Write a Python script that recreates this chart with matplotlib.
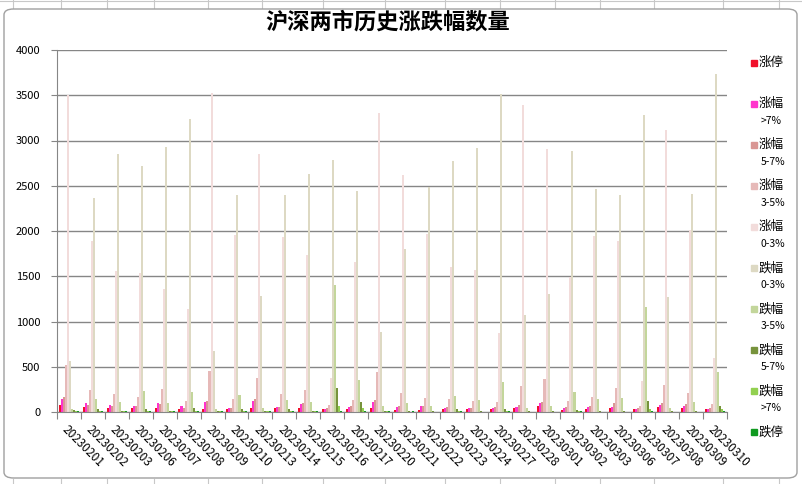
import numpy as np
import matplotlib
matplotlib.use('Agg')
from matplotlib import pyplot as plt
from matplotlib.patches import FancyBboxPatch, Rectangle
from matplotlib.lines import Line2D

plt.rcParams['font.family'] = ['Noto Sans CJK SC', 'DejaVu Sans']

dates = ['20230201', '20230202', '20230203', '20230206', '20230207', '20230208',
         '20230209', '20230210', '20230213', '20230214', '20230215', '20230216',
         '20230217', '20230220', '20230221', '20230222', '20230223', '20230224',
         '20230227', '20230228', '20230301', '20230302', '20230303', '20230306',
         '20230307', '20230308', '20230309', '20230310']

series_names = ['涨停', '涨幅\n>7%', '涨幅\n5-7%', '涨幅\n3-5%', '涨幅\n0-3%',
                '跌幅\n0-3%', '跌幅\n3-5%', '跌幅\n5-7%', '跌幅\n>7%', '跌停']

up_limit = [78, 55, 44, 44, 44, 37, 37, 30, 44, 44, 44, 30, 37, 44, 22, 22, 33, 30,
            30, 41, 67, 22, 30, 44, 33, 52, 41, 30]
up_7 = [140, 100, 78, 67, 104, 67, 111, 41, 122, 55, 85, 37, 59, 111, 59, 67, 41, 41,
        41, 59, 96, 41, 59, 59, 37, 78, 67, 37]
up_5_7 = [163, 74, 63, 67, 85, 48, 118, 44, 140, 60, 104, 48, 65, 133, 67, 65, 59, 41,
          59, 78, 115, 59, 67, 96, 44, 104, 85, 48]
up_3_5 = [522, 244, 200, 163, 255, 122, 448, 144, 377, 200, 244, 74, 133, 437, 215, 155,
          144, 122, 111, 292, 363, 126, 170, 263, 67, 296, 215, 85]
up_0_3 = [3503, 1890, 1558, 1540, 1359, 1138, 3521, 1956, 2855, 1930, 1731, 381, 1654,
          3308, 2619, 1967, 1602, 1569, 877, 3392, 2906, 1490, 1945, 1893, 348, 3116,
          2007, 596]
down_0_3 = [560, 2368, 2851, 2718, 2932, 3241, 670, 2398, 1285, 2401, 2626, 2785, 2442,
            880, 1797, 2483, 2777, 2917, 3510, 1075, 1304, 2884, 2464, 2398, 3282, 1274,
            2409, 3735]
down_3_5 = [37, 140, 115, 237, 100, 222, 33, 189, 44, 133, 111, 1403, 355, 67, 96, 67,
            178, 133, 326, 41, 67, 226, 144, 152, 1164, 41, 111, 437]
down_5_7 = [22, 33, 15, 33, 15, 41, 15, 30, 15, 37, 15, 263, 111, 15, 10, 8, 33, 10, 37,
            15, 15, 22, 10, 10, 122, 10, 10, 67]
down_7 = [15, 10, 8, 8, 8, 10, 8, 8, 8, 10, 8, 67, 41, 8, 5, 5, 8, 5, 10, 5, 5, 8, 5, 5,
          30, 5, 5, 30]
down_limit = [15, 12, 10, 12, 10, 15, 10, 12, 10, 15, 10, 15, 15, 8, 8, 5, 8, 5, 8, 5, 5,
              8, 5, 5, 10, 5, 5, 8]

series = [up_limit, up_7, up_5_7, up_3_5, up_0_3,
          down_0_3, down_3_5, down_5_7, down_7, down_limit]
colors = ['#F0102A', '#FF33CC', '#D99694', '#E6B9B8', '#F2DCDB',
          '#DDD9C3', '#C3D69B', '#77933C', '#92D050', '#109A20']

W, H = 803, 484
def fx(px):
    return px / W
def fy(py):
    return 1 - py / H

fig = plt.figure(figsize=(W / 100, H / 100), dpi=100)

# spreadsheet cells around the chart
grid_c = '#C8C8C8'
for xc in [13, 61, 107, 154, 208, 262, 323, 385, 445, 500, 555, 600, 654, 723, 779]:
    fig.add_artist(Line2D([fx(xc), fx(xc)], [fy(0), fy(8)], color=grid_c, lw=0.8, zorder=-20))
    fig.add_artist(Line2D([fx(xc), fx(xc)], [fy(479), fy(484)], color=grid_c, lw=0.8, zorder=-20))
fig.add_artist(Line2D([0, 1], [fy(1), fy(1)], color=grid_c, lw=0.8, zorder=-20))
fig.add_artist(FancyBboxPatch((fx(4), fy(478)), fx(797) - fx(4), fy(9) - fy(478),
                              boxstyle='round,pad=0,rounding_size=0.012',
                              transform=fig.transFigure, facecolor='white',
                              edgecolor='#A0A0A0', linewidth=1, zorder=-10))

ax = fig.add_axes([fx(57), fy(412), fx(727) - fx(57), fy(50) - fy(412)])
ax.patch.set_alpha(0)

x = np.arange(len(dates))
w = 0.085
for j, (vals, c) in enumerate(zip(series, colors)):
    ax.bar(x + (j - 4.5) * w, vals, w, color=c, linewidth=0)

ax.set_xlim(-0.5, len(dates) - 0.5)
ax.set_ylim(0, 4000)
ax.set_yticks(np.arange(0, 4001, 500))
ax.grid(axis='y', color='#868686', linewidth=1)
ax.set_axisbelow(True)
ax.spines['top'].set_visible(False)
ax.spines['right'].set_visible(False)
ax.spines['left'].set_color('#868686')
ax.spines['bottom'].set_color('#868686')
ax.tick_params(axis='y', length=4, color='#868686', pad=8, labelsize=8)

# tick marks between groups, labels at group centres
ax.set_xticks(np.arange(len(dates) + 1) - 0.5)
ax.set_xticklabels([])
ax.tick_params(axis='x', which='major', length=5, color='#868686')
ax.set_xticks(x, minor=True)
ax.set_xticklabels(dates, minor=True, rotation=-45, ha='left', va='top',
                   rotation_mode='anchor', fontsize=8.5)
ax.tick_params(axis='x', which='minor', length=0, pad=8)

fig.text(fx(388), fy(22), '沪深两市历史涨跌幅数量', fontsize=16, fontweight='bold',
         ha='center', va='center')

# legend on the right
for i, (name, c) in enumerate(zip(series_names, colors)):
    y0 = 62.5 + i * 41.1
    fig.add_artist(Rectangle((fx(751), fy(y0 + 3)), 6 / W, 6 / H,
                             transform=fig.transFigure, color=c))
    parts = name.split('\n')
    fig.text(fx(759), fy(y0), parts[0], fontsize=9, va='center')
    if len(parts) > 1:
        fig.text(fx(761), fy(y0 + 17), parts[1], fontsize=7.5, va='center')

fig.savefig('out.png', dpi=100)
